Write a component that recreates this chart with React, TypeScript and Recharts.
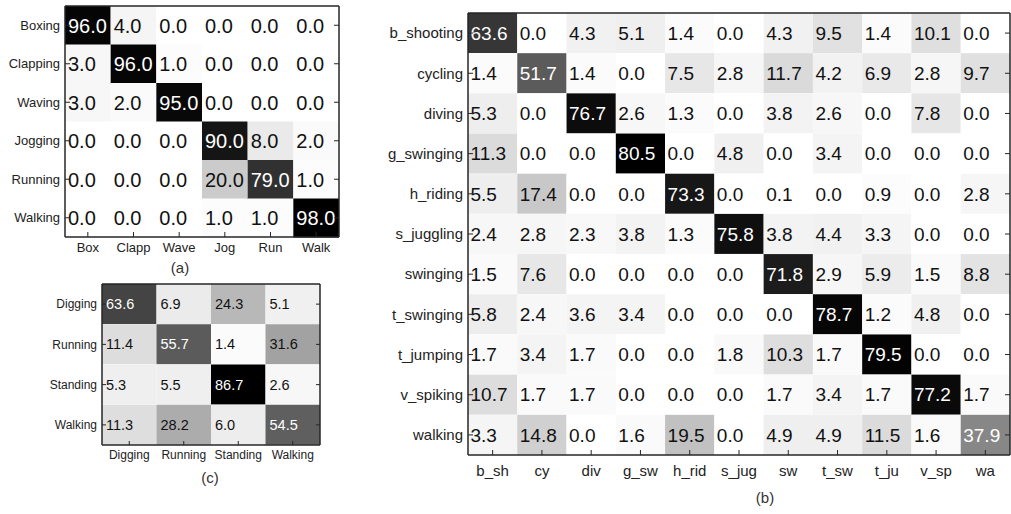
import { BarChart, Bar, XAxis, YAxis } from 'recharts';

// (a) KTH actions
const KTH_ROWS = ['Boxing', 'Clapping', 'Waving', 'Jogging', 'Running', 'Walking'];
const KTH_COLS = ['Box', 'Clapp', 'Wave', 'Jog', 'Run', 'Walk'];
const KTH_VALUES = [
  [96.0, 4.0, 0.0, 0.0, 0.0, 0.0],
  [3.0, 96.0, 1.0, 0.0, 0.0, 0.0],
  [3.0, 2.0, 95.0, 0.0, 0.0, 0.0],
  [0.0, 0.0, 0.0, 90.0, 8.0, 2.0],
  [0.0, 0.0, 0.0, 20.0, 79.0, 1.0],
  [0.0, 0.0, 0.0, 1.0, 1.0, 98.0],
];

// (b) YouTube actions
const YT_ROWS = [
  'b_shooting', 'cycling', 'diving', 'g_swinging', 'h_riding', 's_juggling',
  'swinging', 't_swinging', 't_jumping', 'v_spiking', 'walking',
];
const YT_COLS = ['b_sh', 'cy', 'div', 'g_sw', 'h_rid', 's_jug', 'sw', 't_sw', 't_ju', 'v_sp', 'wa'];
const YT_VALUES = [
  [63.6, 0.0, 4.3, 5.1, 1.4, 0.0, 4.3, 9.5, 1.4, 10.1, 0.0],
  [1.4, 51.7, 1.4, 0.0, 7.5, 2.8, 11.7, 4.2, 6.9, 2.8, 9.7],
  [5.3, 0.0, 76.7, 2.6, 1.3, 0.0, 3.8, 2.6, 0.0, 7.8, 0.0],
  [11.3, 0.0, 0.0, 80.5, 0.0, 4.8, 0.0, 3.4, 0.0, 0.0, 0.0],
  [5.5, 17.4, 0.0, 0.0, 73.3, 0.0, 0.1, 0.0, 0.9, 0.0, 2.8],
  [2.4, 2.8, 2.3, 3.8, 1.3, 75.8, 3.8, 4.4, 3.3, 0.0, 0.0],
  [1.5, 7.6, 0.0, 0.0, 0.0, 0.0, 71.8, 2.9, 5.9, 1.5, 8.8],
  [5.8, 2.4, 3.6, 3.4, 0.0, 0.0, 0.0, 78.7, 1.2, 4.8, 0.0],
  [1.7, 3.4, 1.7, 0.0, 0.0, 1.8, 10.3, 1.7, 79.5, 0.0, 0.0],
  [10.7, 1.7, 1.7, 0.0, 0.0, 0.0, 1.7, 3.4, 1.7, 77.2, 1.7],
  [3.3, 14.8, 0.0, 1.6, 19.5, 0.0, 4.9, 4.9, 11.5, 1.6, 37.9],
];

// (c) construction-site actions
const SITE_ROWS = ['Digging', 'Running', 'Standing', 'Walking'];
const SITE_COLS = ['Digging', 'Running', 'Standing', 'Walking'];
const SITE_VALUES = [
  [63.6, 6.9, 24.3, 5.1],
  [11.4, 55.7, 1.4, 31.6],
  [5.3, 5.5, 86.7, 2.6],
  [11.3, 28.2, 6.0, 54.5],
];

const FONT = '"Liberation Sans", Arial, Helvetica, sans-serif';
const AXIS = '#262626';
const TEXT = '#222';

// inverted gray colormap scaled to the matrix maximum
function shade(v: number, max: number) {
  const g = Math.round(255 * (1 - v / max));
  return `rgb(${g},${g},${g})`;
}

interface MatrixProps {
  rows: string[];
  cols: string[];
  values: number[][];
  left: number;
  top: number;
  width: number;
  height: number;
  margin: { top: number; right: number; bottom: number; left: number };
  yWidth: number;
  xHeight: number;
  cellFont: number;
  yFont: number;
  xFont: number;
  pad: number;
  xGap: number;
  tick: number;
}

function Matrix(p: MatrixProps) {
  const max = Math.max(...p.values.flat());
  const n = p.cols.length;
  const data = p.rows.map((name, i) => {
    const row: Record<string, string | number> = { name };
    p.cols.forEach((_, j) => {
      row[`c${j}`] = 1;
      row[`v${j}`] = p.values[i][j];
    });
    return row;
  });
  const ticks = p.cols.map((_, j) => j + 0.5);

  const cellShape = (j: number) => (props: any) => {
    const { x, y, width, height, payload } = props;
    const v = payload[`v${j}`] as number;
    const dark = v / max > 0.45;
    return (
      <g>
        <rect x={x} y={y} width={width} height={height} fill={shade(v, max)} />
        <text
          x={x + p.pad}
          y={y + height / 2}
          dy="0.36em"
          fontSize={p.cellFont}
          fontFamily={FONT}
          fill={dark ? '#fff' : '#111'}
        >
          {v.toFixed(1)}
        </text>
      </g>
    );
  };

  const bottomTick = ({ x, y, payload }: any) => (
    <g>
      <line x1={x} y1={y} x2={x} y2={y - p.tick} stroke={AXIS} />
      <text x={x} y={y + p.xGap} dy="0.71em" textAnchor="middle" fontSize={p.xFont} fontFamily={FONT} fill={TEXT}>
        {p.cols[Math.floor(payload.value)]}
      </text>
    </g>
  );
  const topTick = ({ x, y }: any) => <line x1={x} y1={y} x2={x} y2={y + p.tick} stroke={AXIS} />;
  const leftTick = ({ x, y, payload }: any) => (
    <g>
      <line x1={x} y1={y} x2={x + p.tick} y2={y} stroke={AXIS} />
      <text x={x - 5} y={y} dy="0.35em" textAnchor="end" fontSize={p.yFont} fontFamily={FONT} fill={TEXT}>
        {payload.value}
      </text>
    </g>
  );
  const rightTick = ({ x, y }: any) => <line x1={x} y1={y} x2={x - p.tick} y2={y} stroke={AXIS} />;

  const axisLine = { stroke: AXIS, strokeWidth: 1.5 };

  return (
    <div style={{ position: 'absolute', left: p.left, top: p.top }}>
      <BarChart
        width={p.width}
        height={p.height}
        data={data}
        layout="vertical"
        margin={p.margin}
        barCategoryGap={0}
        barGap={0}
      >
        {p.cols.map((_, j) => (
          <Bar key={j} dataKey={`c${j}`} stackId="m" isAnimationActive={false} shape={cellShape(j)} />
        ))}
        <XAxis
          type="number"
          domain={[0, n]}
          ticks={ticks}
          interval={0}
          height={p.xHeight}
          tickSize={0}
          tickMargin={0}
          tickLine={false}
          axisLine={axisLine}
          tick={bottomTick}
        />
        <XAxis
          xAxisId="top"
          orientation="top"
          type="number"
          domain={[0, n]}
          ticks={ticks}
          interval={0}
          height={1}
          tickSize={0}
          tickMargin={0}
          tickLine={false}
          axisLine={axisLine}
          tick={topTick}
        />
        <YAxis
          type="category"
          dataKey="name"
          width={p.yWidth}
          interval={0}
          tickSize={0}
          tickMargin={0}
          tickLine={false}
          axisLine={axisLine}
          tick={leftTick}
        />
        <YAxis
          yAxisId="right"
          orientation="right"
          type="category"
          dataKey="name"
          width={1}
          interval={0}
          tickSize={0}
          tickMargin={0}
          tickLine={false}
          axisLine={axisLine}
          tick={rightTick}
        />
      </BarChart>
    </div>
  );
}

function Caption({ x, y, text }: { x: number; y: number; text: string }) {
  return (
    <div
      style={{
        position: 'absolute',
        left: x - 20,
        top: y - 10,
        width: 40,
        textAlign: 'center',
        fontFamily: FONT,
        fontSize: 15,
        lineHeight: '20px',
        color: '#333',
      }}
    >
      {text}
    </div>
  );
}

export default function App() {
  return (
    <div
      style={{
        position: 'fixed',
        left: 0,
        top: 0,
        width: 1011,
        height: 514,
        background: '#fff',
        overflow: 'hidden',
      }}
    >
      <Matrix
        rows={KTH_ROWS}
        cols={KTH_COLS}
        values={KTH_VALUES}
        left={0}
        top={0}
        width={345}
        height={262}
        margin={{ top: 5, right: 5, bottom: 5, left: 0 }}
        yWidth={65}
        xHeight={20}
        cellFont={20}
        yFont={13}
        xFont={13}
        pad={3}
        xGap={6}
        tick={5}
      />
      <Caption x={180} y={268} text="(a)" />

      <Matrix
        rows={YT_ROWS}
        cols={YT_COLS}
        values={YT_VALUES}
        left={380}
        top={0}
        width={631}
        height={514}
        margin={{ top: 12, right: 0, bottom: 34, left: 0 }}
        yWidth={88}
        xHeight={25}
        cellFont={19}
        yFont={15}
        xFont={15}
        pad={2.5}
        xGap={10}
        tick={5}
      />
      <Caption x={765} y={498} text="(b)" />

      <Matrix
        rows={SITE_ROWS}
        cols={SITE_COLS}
        values={SITE_VALUES}
        left={20}
        top={276}
        width={305}
        height={190}
        margin={{ top: 7, right: 4, bottom: 1, left: 0 }}
        yWidth={82}
        xHeight={20}
        cellFont={14.5}
        yFont={12}
        xFont={12}
        pad={4}
        xGap={5}
        tick={4}
      />
      <Caption x={210} y={478} text="(c)" />
    </div>
  );
}
